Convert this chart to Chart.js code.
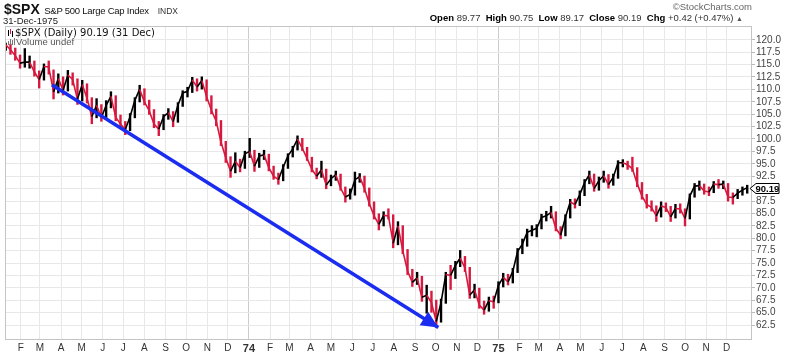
<!DOCTYPE html>
<html>
<head>
<meta charset="utf-8">
<script src="https://cdn.jsdelivr.net/npm/chart.js@4.4.1/dist/chart.umd.min.js"></script>
<style>
  body { margin: 0; background: #fff; }
  #wrap { position: relative; width: 800px; height: 354px; font-family: Arial, "Liberation Sans", sans-serif; }
  #spx_canvas { position: absolute; left: 0; top: 0; }
  .hdr { position: absolute; white-space: nowrap; color: #111; }
  .lbl { font-weight: bold; color: #000; }
  .val { color: #333; }
</style>
</head>
<body>
<div id="wrap">
  <canvas id="spx_canvas"></canvas>
  <div class="hdr" style="left:4px; top:0px;"><span style="font-weight:bold; font-size:14px;">$SPX</span> <span style="font-size:9.5px; letter-spacing:-0.25px;">S&amp;P 500 Large Cap Index</span>&nbsp; <span style="font-size:8.5px; color:#333;">INDX</span></div>
  <div class="hdr" style="left:3px; top:15px; font-size:9.5px; color:#222;">31-Dec-1975</div>
  <div class="hdr" style="right:48px; top:1px; font-size:9.5px; color:#666;">&copy;StockCharts.com</div>
  <div class="hdr" style="right:57px; top:12px; font-size:9.5px;"><span class="lbl">Open</span> <span class="val">89.77</span>&nbsp; <span class="lbl">High</span> <span class="val">90.75</span>&nbsp; <span class="lbl">Low</span> <span class="val">89.17</span>&nbsp; <span class="lbl">Close</span> <span class="val">90.19</span>&nbsp; <span class="lbl">Chg</span> <span class="val">+0.42 (+0.47%)</span> <span style="font-size:7px; color:#555;">&#9650;</span></div>
</div>
<script>
// weekly bars, first one on 10 Jan 1973, then every 7 days up to 31 Dec 1975
const firstWeek = '1973-01-10';

// weekly closes
const close73 = [119.0, 118.0, 116.8, 115.3, 115.5, 115.5, 113.5, 112.0, 114.6, 114.5,
  109.5, 112.2, 109.8, 112.9, 112.0, 108.0, 111.0, 108.2, 104.5, 106.8,
  104.3, 106.8, 108.6, 104.4, 103.0, 101.9, 104.5, 107.8, 110.0, 107.5,
  105.7, 103.0, 102.0, 104.5, 105.3, 103.5, 106.8, 109.3, 109.6, 111.9,
  110.5, 111.8, 108.5, 105.8, 103.6, 99.4, 96.2, 93.5, 95.5, 94.2, 97.0];
const close74 = [97.5, 94.5, 96.6, 96.8, 94.2, 92.5, 91.8, 94.3, 96.6, 98.0,
  100.0, 98.1, 96.1, 93.9, 92.5, 93.8, 90.7, 92.0, 92.8, 90.1,
  88.3, 88.8, 91.8, 92.4, 90.0, 87.0, 84.5, 82.8, 84.6, 84.5,
  79.0, 82.5, 77.5, 73.4, 71.1, 72.0, 68.1, 68.5, 67.0, 63.2,
  67.0, 72.7, 72.5, 74.5, 76.0, 74.0, 68.5, 69.6, 66.5, 65.5, 67.4, 67.2];
const close75 = [70.5, 72.1, 71.2, 73.3, 77.3, 78.8, 81.2, 81.6, 82.0, 84.2,
  84.5, 85.2, 82.0, 80.6, 84.2, 87.3, 86.8, 88.8, 91.2, 92.8,
  90.0, 91.6, 92.6, 90.8, 92.3, 95.2, 95.2, 94.8, 94.0, 91.0,
  88.5, 86.8, 86.2, 84.5, 86.5, 86.2, 84.3, 86.0, 85.9, 84.0,
  88.5, 90.5, 90.6, 89.5, 89.3, 90.9, 90.8, 90.9, 88.3, 88.2, 89.1, 89.7, 90.19];

// weekly lows / highs
const low73 = [117.8, 117.0, 115.8, 114.2, 114.4, 114.2, 112.6, 110.2, 111.8, 113.0,
  108.0, 109.2, 108.8, 109.6, 110.8, 106.9, 107.6, 107.2, 103.0, 104.2,
  103.5, 104.0, 106.2, 103.6, 102.0, 100.8, 101.6, 104.2, 107.4, 106.8,
  104.9, 102.2, 100.6, 101.8, 103.9, 102.4, 103.3, 106.5, 108.4, 109.3,
  109.6, 110.0, 107.6, 105.0, 102.6, 98.6, 95.2, 92.2, 93.1, 93.3, 94.0];
const high73 = [119.4, 119.2, 118.4, 117.0, 118.3, 116.8, 115.8, 113.8, 115.2, 115.8,
  114.0, 113.2, 112.6, 113.9, 113.4, 112.2, 111.9, 111.2, 108.4, 108.2,
  107.0, 107.8, 109.6, 108.8, 104.9, 103.6, 105.2, 108.4, 110.9, 110.2,
  107.9, 106.0, 103.6, 105.0, 106.2, 105.6, 107.4, 109.8, 110.5, 112.5,
  112.2, 112.6, 112.0, 108.8, 106.1, 103.8, 99.6, 96.5, 97.3, 96.0, 97.6];
const low74 = [96.2, 93.4, 94.2, 95.8, 93.5, 91.8, 90.8, 91.5, 94.0, 96.3,
  97.7, 97.6, 95.6, 93.3, 91.9, 92.2, 89.9, 90.5, 91.6, 89.6,
  87.2, 87.8, 88.6, 91.2, 89.2, 86.4, 83.8, 81.6, 82.4, 83.8,
  78.0, 78.6, 76.8, 72.6, 70.2, 70.6, 67.2, 64.8, 65.0, 62.0,
  63.0, 66.8, 69.6, 71.8, 74.2, 73.2, 67.8, 67.9, 65.8, 64.6, 65.2, 65.8];
const high74 = [100.2, 97.8, 97.2, 97.8, 97.0, 94.6, 93.2, 94.9, 97.1, 98.6,
  100.7, 100.2, 98.4, 96.4, 94.2, 95.6, 94.0, 92.8, 93.6, 93.0,
  90.4, 90.0, 93.4, 93.1, 92.6, 90.2, 87.4, 85.0, 85.4, 86.0,
  84.8, 83.4, 82.6, 77.8, 73.8, 73.2, 72.4, 70.6, 69.4, 67.6,
  67.8, 73.2, 74.6, 75.4, 77.6, 76.4, 74.2, 70.8, 70.0, 67.4, 68.2, 68.4];
const low75 = [66.9, 70.1, 70.5, 70.9, 73.0, 76.8, 78.3, 80.4, 80.2, 81.8,
  83.4, 84.0, 81.4, 79.8, 80.4, 84.0, 86.0, 86.5, 88.5, 90.9,
  89.4, 89.6, 91.2, 90.0, 90.6, 92.0, 94.3, 93.8, 93.4, 90.3,
  87.8, 86.0, 85.4, 83.3, 84.2, 85.3, 83.3, 84.0, 85.0, 82.4,
  83.8, 88.2, 89.6, 88.8, 88.5, 89.1, 90.0, 89.9, 87.4, 86.8, 87.9, 88.6, 89.0];
const high75 = [71.3, 73.0, 72.8, 74.0, 78.0, 79.9, 81.9, 82.6, 82.8, 84.9,
  85.5, 86.5, 85.4, 82.4, 84.8, 87.9, 88.0, 89.6, 91.9, 93.6,
  93.0, 92.4, 93.6, 92.9, 93.0, 95.7, 95.9, 95.6, 96.4, 94.3,
  91.3, 88.9, 87.6, 86.6, 87.4, 87.2, 86.5, 86.9, 87.0, 86.0,
  89.0, 91.1, 91.6, 91.0, 90.4, 91.5, 91.9, 91.6, 91.1, 89.2, 89.9, 90.4, 90.75];

// month ticks, Feb 1973 .. Dec 1975
const tickLabels = ['F', 'M', 'A', 'M', 'J', 'J', 'A', 'S', 'O', 'N', 'D',
  '74', 'F', 'M', 'A', 'M', 'J', 'J', 'A', 'S', 'O', 'N', 'D',
  '75', 'F', 'M', 'A', 'M', 'J', 'J', 'A', 'S', 'O', 'N', 'D'];
const yTicks = [62.5, 65, 67.5, 70, 72.5, 75, 77.5, 80, 82.5, 85, 87.5, 90, 92.5,
  95, 97.5, 100, 102.5, 105, 107.5, 110, 112.5, 115, 117.5, 120];

// the blue trend arrow
const arrowFrom = ['1973-03-19', 110.9];
const arrowTo = ['1974-10-05', 62.0];

const closes = close73.concat(close74, close75);
const lows = low73.concat(low74, low75);
const highs = high73.concat(high74, high75);

const base = Date.UTC(1973, 0, 1);
function dayOf(s) {
  const p = s.split('-').map(Number);
  return (Date.UTC(p[0], p[1] - 1, p[2]) - base) / 86400000;
}
const start = dayOf(firstWeek);
const weekDays = closes.map((c, i) => start + i * 7);
const monthDays = tickLabels.map((l, i) => (Date.UTC(1973, 1 + i, 1) - base) / 86400000);

const UP = '#000000';
const DOWN = '#d8193f';
const barColors = closes.map((c, i) => (i > 0 && c < closes[i - 1]) ? DOWN : UP);

const chartDecor = {
  id: 'chartDecor',
  afterDatasetsDraw(chart) {
    const ctx = chart.ctx;
    // arrow head
    const pts = chart.getDatasetMeta(2).data;
    const p0 = pts[0], p1 = pts[1];
    const ang = Math.atan2(p1.y - p0.y, p1.x - p0.x);
    const len = 17, half = 8;
    ctx.save();
    ctx.fillStyle = '#1a2cf0';
    ctx.beginPath();
    ctx.moveTo(p1.x, p1.y);
    ctx.lineTo(p1.x - len * Math.cos(ang) + half * Math.sin(ang), p1.y - len * Math.sin(ang) - half * Math.cos(ang));
    ctx.lineTo(p1.x - len * Math.cos(ang) - half * Math.sin(ang), p1.y - len * Math.sin(ang) + half * Math.cos(ang));
    ctx.closePath();
    ctx.fill();
    ctx.restore();
  },
  afterDraw(chart) {
    const ctx = chart.ctx;
    const a = chart.chartArea;
    ctx.save();
    // plot border
    ctx.strokeStyle = '#c4c4c4';
    ctx.lineWidth = 1;
    ctx.strokeRect(a.left + 0.5, a.top + 0.5, a.right - a.left - 1, a.bottom - a.top);

    // legend in the plot
    ctx.fillStyle = '#000';
    ctx.fillRect(a.left + 3, a.top + 4, 1, 6);
    ctx.fillStyle = DOWN;
    ctx.fillRect(a.left + 5, a.top + 3, 1, 5);
    ctx.fillStyle = '#000';
    ctx.fillRect(a.left + 7, a.top + 5, 1, 6);
    ctx.font = '10px "DejaVu Sans", Verdana, sans-serif';
    ctx.textBaseline = 'middle';
    ctx.fillStyle = '#111';
    ctx.fillText('$SPX (Daily) 90.19 (31 Dec)', a.left + 10, a.top + 7);
    ctx.fillStyle = '#777';
    ctx.fillRect(a.left + 3, a.top + 15, 1, 4);
    ctx.fillRect(a.left + 5, a.top + 13, 1, 6);
    ctx.fillRect(a.left + 7, a.top + 14, 1, 5);
    ctx.fillRect(a.left + 9, a.top + 12, 1, 7);
    ctx.font = '9.5px Arial, sans-serif';
    ctx.fillStyle = '#555';
    ctx.fillText('Volume undef', a.left + 11, a.top + 16);

    // last price tag on the axis
    const last = closes[closes.length - 1];
    const y = Math.round(chart.scales.y.getPixelForValue(last)) + 0.5;
    const x0 = a.right - 2, x1 = a.right + 4, x2 = a.right + 27;
    ctx.beginPath();
    ctx.moveTo(x0, y);
    ctx.lineTo(x1, y - 5);
    ctx.lineTo(x2, y - 5);
    ctx.lineTo(x2, y + 5);
    ctx.lineTo(x1, y + 5);
    ctx.closePath();
    ctx.fillStyle = '#fff';
    ctx.fill();
    ctx.strokeStyle = '#000';
    ctx.stroke();
    ctx.fillStyle = '#000';
    ctx.font = 'bold 9.5px Arial, sans-serif';
    ctx.textAlign = 'left';
    ctx.fillText(last.toFixed(2), x1 - 0.5, y + 0.5);
    ctx.restore();
  }
};

const canvas = document.getElementById('spx_canvas');
canvas.width = 800;
canvas.height = 354;

new Chart(canvas, {
  data: {
    datasets: [{
      type: 'bar',
      label: '$SPX range',
      data: closes.map((c, i) => ({ x: weekDays[i], y: [lows[i], highs[i]] })),
      backgroundColor: barColors,
      borderWidth: 0,
      barPercentage: 0.5,
      categoryPercentage: 1,
      grouped: false,
      order: 2
    }, {
      type: 'line',
      label: '$SPX close',
      data: closes.map((c, i) => ({ x: weekDays[i], y: c })),
      borderWidth: 1.6,
      borderColor: UP,
      segment: {
        borderColor: (s) => s.p1.parsed.y < s.p0.parsed.y ? DOWN : UP
      },
      pointRadius: 0,
      tension: 0,
      order: 1
    }, {
      type: 'line',
      label: 'trend',
      data: [
        { x: dayOf(arrowFrom[0]), y: arrowFrom[1] },
        { x: dayOf(arrowTo[0]), y: arrowTo[1] }
      ],
      borderColor: '#1a2cf0',
      borderWidth: 3.5,
      pointRadius: 0,
      order: 0
    }]
  },
  options: {
    responsive: false,
    animation: false,
    events: [],
    layout: {
      padding: { left: 5, top: 26, right: 0, bottom: 0 }
    },
    scales: {
      x: {
        type: 'linear',
        offset: false,
        min: 8,
        max: 1101,
        afterBuildTicks: (scale) => {
          scale.ticks = monthDays.map(v => ({ value: v }));
        },
        afterFit: (scale) => { scale.height = 15; },
        grid: {
          offset: false,
          color: (c) => (tickLabels[c.index] || '').length === 2 ? '#cccccc' : '#e8e8e8',
          drawTicks: false
        },
        border: { display: false },
        ticks: {
          autoSkip: false,
          maxRotation: 0,
          padding: 3,
          color: '#333',
          font: (c) => (c.tick && c.tick.label && c.tick.label.length === 2)
            ? { family: 'Arial', size: 11, weight: 'bold' }
            : { family: 'Arial', size: 10 },
          callback: (v, i) => tickLabels[i]
        }
      },
      y: {
        position: 'right',
        min: 59.68,
        max: 122.78,
        afterBuildTicks: (scale) => {
          scale.ticks = yTicks.map(v => ({ value: v }));
        },
        afterFit: (scale) => { scale.width = 48; },
        grid: {
          color: '#e8e8e8',
          tickColor: '#bbbbbb',
          tickLength: 3
        },
        border: { display: false },
        ticks: {
          autoSkip: false,
          padding: 1,
          color: '#444',
          font: { family: 'Arial', size: 10 },
          callback: (v) => Number(v).toFixed(1)
        }
      }
    },
    plugins: {
      legend: { display: false },
      tooltip: { enabled: false }
    }
  },
  plugins: [chartDecor]
});
</script>
</body>
</html>
